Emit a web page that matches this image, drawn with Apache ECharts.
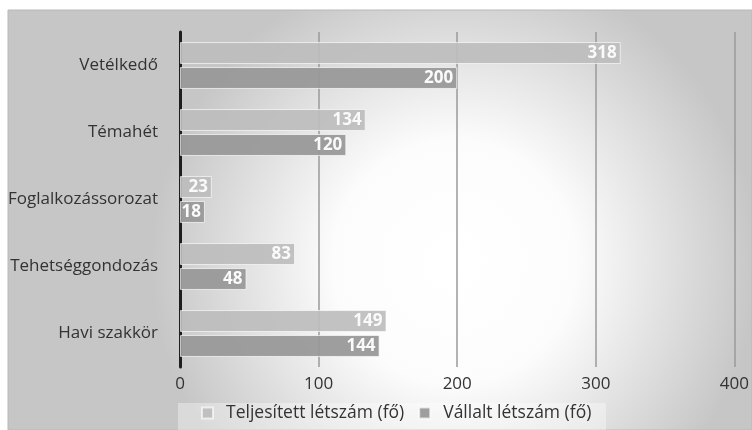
<!DOCTYPE html>
<html>
<head>
<meta charset="utf-8">
<script src="https://cdn.jsdelivr.net/npm/echarts@6/dist/echarts.min.js"></script>
<style>
  html, body { margin: 0; padding: 0; background: #ffffff; }
  #chart { width: 752px; height: 430px; }
</style>
</head>
<body>
<div id="chart"></div>
<script>
// Program categories, top to bottom
const categories = ['Vetélkedő', 'Témahét', 'Foglalkozássorozat', 'Tehetséggondozás', 'Havi szakkör'];
// Headcounts per program
const teljesitett = [318, 134, 23, 83, 149];
const vallalt = [200, 120, 18, 48, 144];
const seriesNames = ['Teljesített létszám (fő)', 'Vállalt létszám (fő)'];
const xTicks = { min: 0, max: 400, interval: 100 };

const FONT = '"Open Sans", "Noto Sans", sans-serif';
const chart = echarts.init(document.getElementById('chart'), null, { renderer: 'canvas' });

// category axis is reversed so the first entry sits on top
const cats = categories.slice().reverse();
const s1 = teljesitett.slice().reverse();
const s2 = vallalt.slice().reverse();

const labelStyle = {
  show: true,
  position: 'insideRight',
  distance: 4,
  color: '#ffffff',
  fontFamily: FONT,
  fontWeight: 'bold',
  fontSize: 17
};

chart.setOption({
  animation: false,
  backgroundColor: '#ffffff',
  graphic: [
    {
      type: 'rect',
      z: -10,
      silent: true,
      shape: { x: 8, y: 10, width: 744, height: 420 },
      style: {
        fill: new echarts.graphic.RadialGradient(0.6, 0.6, 0.72, [
          { offset: 0, color: '#ffffff' },
          { offset: 0.4, color: '#fcfcfc' },
          { offset: 1, color: '#c6c6c6' }
        ]),
        stroke: '#b8b8b8',
        lineWidth: 1
      }
    },
    {
      type: 'rect',
      z: -5,
      silent: true,
      shape: { x: 178, y: 403, width: 428, height: 27 },
      style: { fill: 'rgba(255,255,255,0.35)' }
    }
  ],
  grid: { left: 180, right: 13, top: 32, bottom: 63, containLabel: false },
  legend: {
    bottom: 3,
    left: 196,
    itemWidth: 11,
    itemHeight: 11,
    itemGap: 14,
    icon: 'rect',
    textStyle: { fontFamily: FONT, fontSize: 17.5, color: '#333333', padding: [0, 0, 0, 8] },
    data: seriesNames
  },
  xAxis: {
    type: 'value',
    min: xTicks.min,
    max: xTicks.max,
    interval: xTicks.interval,
    axisLine: { show: false },
    axisTick: { show: false },
    axisLabel: { fontFamily: FONT, fontSize: 17, color: '#333333', margin: 9 },
    splitLine: { show: true, lineStyle: { color: '#9a9a9a', width: 1.5 } }
  },
  yAxis: {
    type: 'category',
    data: cats,
    axisLine: { show: true, lineStyle: { color: '#1e1e1e', width: 3 } },
    axisTick: { show: false },
    axisLabel: { fontFamily: FONT, fontSize: 17, color: '#333333', margin: 22 }
  },
  series: [
    {
      name: seriesNames[0],
      type: 'bar',
      data: s1,
      barGap: '14%',
      barCategoryGap: '30%',
      itemStyle: { color: '#bdbdbd', opacity: 0.92, borderColor: 'rgba(255,255,255,0.7)', borderWidth: 1 },
      label: labelStyle
    },
    {
      name: seriesNames[1],
      type: 'bar',
      data: s2,
      itemStyle: { color: '#999999', opacity: 0.95, borderColor: 'rgba(255,255,255,0.7)', borderWidth: 1 },
      label: labelStyle
    }
  ]
});
</script>
</body>
</html>
